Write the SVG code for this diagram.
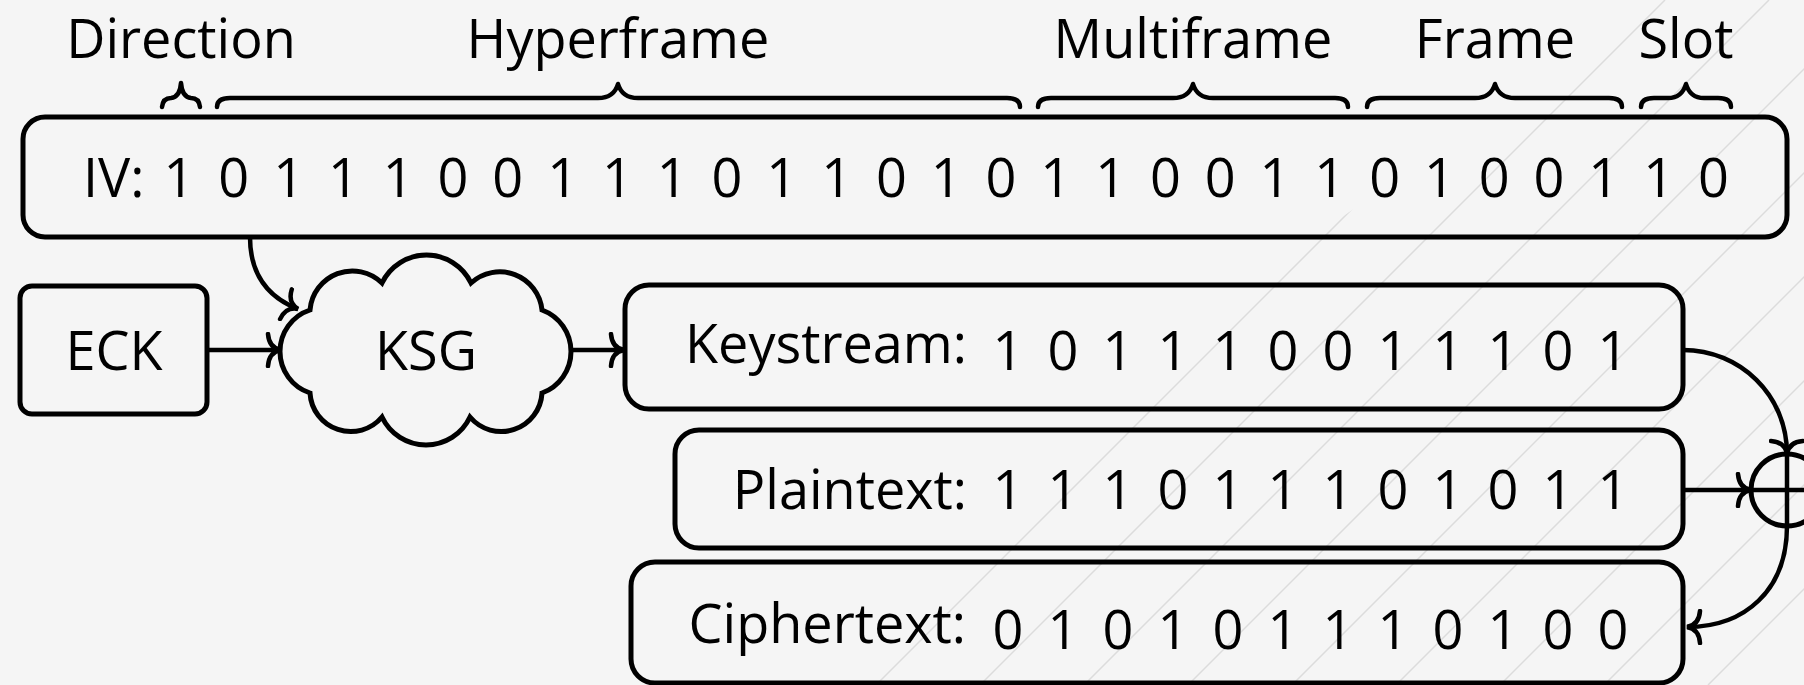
<svg xmlns="http://www.w3.org/2000/svg" width="1804" height="685" viewBox="0 0 1804 685">
  <style>
    text { font-family: "Open Sans", "Noto Sans", "Liberation Sans", sans-serif; font-size: 54px; fill: #000; }
    .mid { text-anchor: middle; }
    .end { text-anchor: end; }
    .box { fill: none; stroke: #000; stroke-width: 5; }
    .brace { fill: none; stroke: #000; stroke-width: 4.5; stroke-linecap: round; stroke-linejoin: round; }
    .conn { fill: none; stroke: #000; stroke-width: 4.5; }
    .bg { stroke: #dcdcdc; stroke-width: 1.5; }
  </style>
  <defs>
    <marker id="arr" viewBox="-16 -18 20 36" refX="0" refY="0" markerWidth="20" markerHeight="36" markerUnits="userSpaceOnUse" orient="auto">
      <path d="M -13,-16 Q -12,-2 0,0 Q -12,2 -13,16" fill="none" stroke="#000" stroke-width="4.5" stroke-linecap="round"/>
    </marker>
    <clipPath id="bgclip">
      <polygon points="866,685 1320,232 1660,0 1804,0 1804,685"/>
    </clipPath>
  </defs>

  <rect x="0" y="0" width="1804" height="685" fill="#f5f5f5"/>
  <g id="background-lines" clip-path="url(#bgclip)">
    <line class="bg" x1="668" y1="685" x2="1353" y2="0"/>
    <line class="bg" x1="772" y1="685" x2="1457" y2="0"/>
    <line class="bg" x1="876" y1="685" x2="1561" y2="0"/>
    <line class="bg" x1="980" y1="685" x2="1665" y2="0"/>
    <line class="bg" x1="1084" y1="685" x2="1769" y2="0"/>
    <line class="bg" x1="1188" y1="685" x2="1873" y2="0"/>
    <line class="bg" x1="1292" y1="685" x2="1977" y2="0"/>
    <line class="bg" x1="1396" y1="685" x2="2081" y2="0"/>
    <line class="bg" x1="1500" y1="685" x2="2185" y2="0"/>
    <line class="bg" x1="1604" y1="685" x2="2289" y2="0"/>
    <line class="bg" x1="1708" y1="685" x2="2393" y2="0"/>
  </g>

  <g id="braces">
    <g id="brace-direction">
      <path class="brace" d="M 162,107 Q 163,98 171,98 Q 180,97 181,83 Q 182,97 191,98 Q 199,98 200,107"/>
      <text class="mid" x="181" y="58">Direction</text>
    </g>
    <g id="brace-hyperframe">
      <path class="brace" d="M 217,107 Q 217,98 230,98 L 598,98 Q 614,98 618,84 Q 622,98 638,98 L 1007,98 Q 1020,98 1020,107"/>
      <text class="mid" x="618" y="58">Hyperframe</text>
    </g>
    <g id="brace-multiframe">
      <path class="brace" d="M 1038,107 Q 1038,98 1051,98 L 1173,98 Q 1189,98 1193,84 Q 1197,98 1213,98 L 1335,98 Q 1348,98 1348,107"/>
      <text class="mid" x="1193" y="58">Multiframe</text>
    </g>
    <g id="brace-frame">
      <path class="brace" d="M 1367,107 Q 1367,98 1380,98 L 1475,98 Q 1491,98 1495,84 Q 1499,98 1515,98 L 1609,98 Q 1622,98 1622,107"/>
      <text class="mid" x="1495" y="58">Frame</text>
    </g>
    <g id="brace-slot">
      <path class="brace" d="M 1641,107 Q 1641,98 1654,98 L 1668,98 Q 1682,98 1686,84 Q 1690,98 1704,98 L 1718,98 Q 1731,98 1731,107"/>
      <text class="mid" x="1686" y="58">Slot</text>
    </g>
  </g>

  <g id="iv">
    <rect class="box" x="23" y="117" width="1764" height="120" rx="22"/>
    <text x="83" y="197">IV:</text>
    <text class="mid" y="197" x="179 233.8 288.6 343.4 398.2 453 507.8 562.6 617.4 672.2 727 781.8 836.6 891.4 946.2 1001 1055.8 1110.6 1165.4 1220.2 1275 1329.8 1384.6 1439.4 1494.2 1549 1603.8 1658.6 1713.4">10111001110110101100110100110</text>
  </g>

  <g id="eck">
    <rect class="box" x="20" y="286" width="187" height="128" rx="12"/>
    <text class="mid" x="114" y="370">ECK</text>
  </g>

  <g id="ksg">
    <path class="box" d="M 310,310 A 42.5,42.5 0 0 1 382,283 A 49.4,49.4 0 0 1 471,283 A 42.5,42.5 0 0 1 542,310 A 44.2,44.2 0 0 1 542,393 A 40.8,40.8 0 0 1 470,417 A 48.6,48.6 0 0 1 382,417 A 40.8,40.8 0 0 1 310,393 A 43.7,43.7 0 0 1 310,310 Z"/>
    <text class="mid" x="426" y="370">KSG</text>
  </g>

  <g id="keystream">
    <rect class="box" x="625" y="285" width="1058" height="124" rx="24"/>
    <text class="end" x="967" y="363">Keystream:</text>
    <text class="mid" y="370" x="1008 1063 1118 1173 1228 1283 1338 1393 1448 1503 1558 1613">101110011101</text>
  </g>

  <g id="plaintext">
    <rect class="box" x="675" y="430" width="1008" height="118" rx="24"/>
    <text class="end" x="967" y="509">Plaintext:</text>
    <text class="mid" y="509" x="1008 1063 1118 1173 1228 1283 1338 1393 1448 1503 1558 1613">111011101011</text>
  </g>

  <g id="ciphertext">
    <rect class="box" x="631" y="562" width="1052" height="121" rx="24"/>
    <text class="end" x="966" y="643">Ciphertext:</text>
    <text class="mid" y="649" x="1008 1063 1118 1173 1228 1283 1338 1393 1448 1503 1558 1613">010101110100</text>
  </g>

  <g id="xor">
    <circle class="box" cx="1787" cy="490" r="36"/>
    <line class="conn" x1="1787" y1="454" x2="1787" y2="526"/>
    <line class="conn" x1="1751" y1="490" x2="1823" y2="490"/>
  </g>

  <g id="connectors">
    <path class="conn" d="M 250,237 C 250,272 265,296 298,309" marker-end="url(#arr)"/>
    <path class="conn" d="M 207,350 L 281,350" marker-end="url(#arr)"/>
    <path class="conn" d="M 572,350 L 624,350" marker-end="url(#arr)"/>
    <path class="conn" d="M 1683,350 C 1740,350 1787,395 1787,454" marker-end="url(#arr)"/>
    <path class="conn" d="M 1683,490 L 1751,490" marker-end="url(#arr)"/>
    <path class="conn" d="M 1787,526 C 1787,590 1745,627 1687,627" marker-end="url(#arr)"/>
  </g>
</svg>
